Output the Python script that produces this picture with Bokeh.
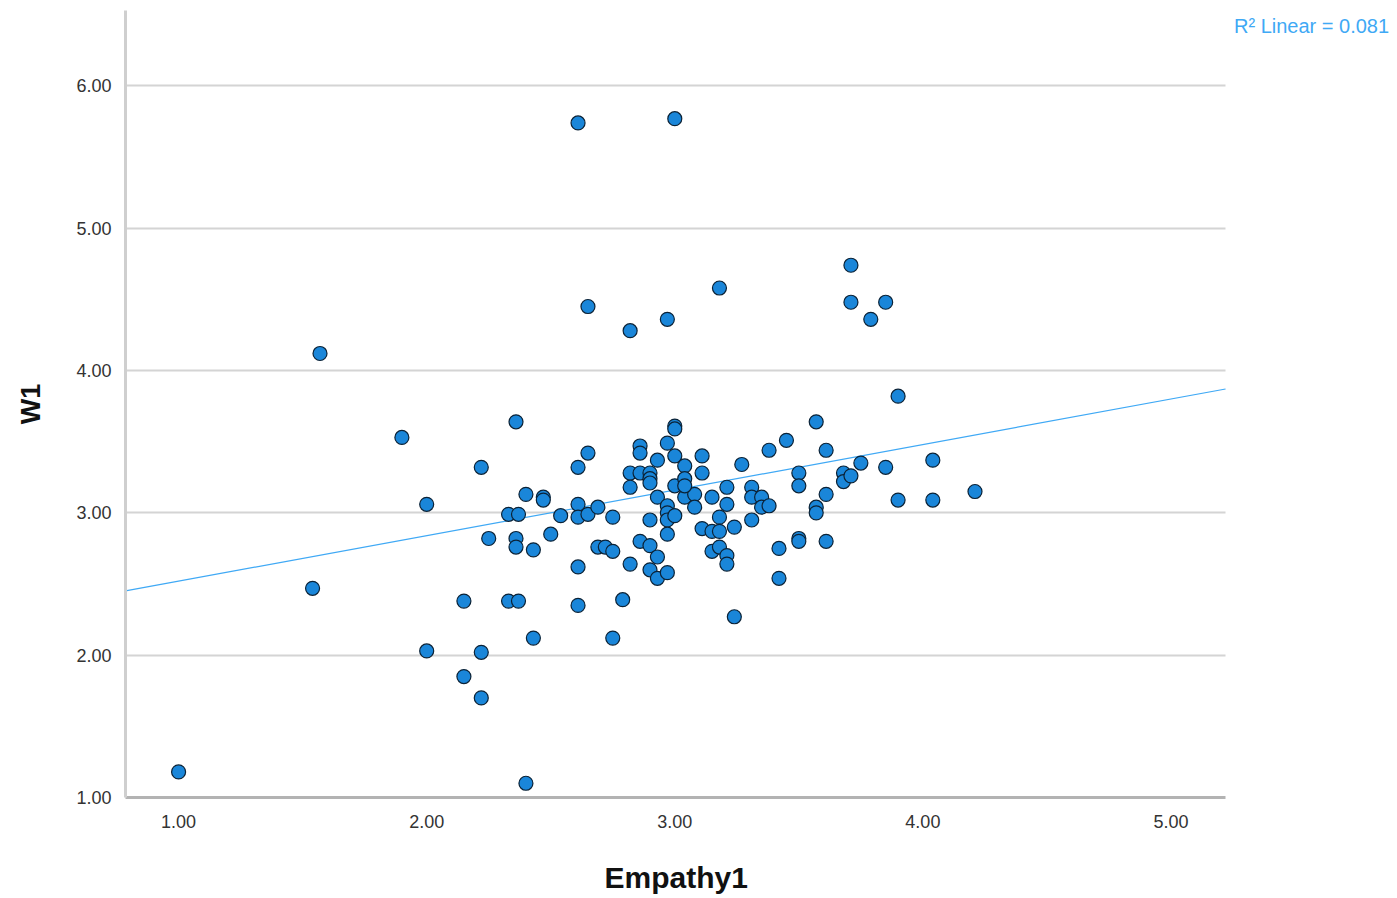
from bokeh.plotting import figure
from bokeh.models import FixedTicker, NumeralTickFormatter, Label, Range1d, ColumnDataSource, Title
from bokeh.embed import file_html
from bokeh.resources import INLINE
import numpy as np

# ---- data ----
empathy1 = [1.00, 2.40, 1.57, 1.54, 1.90, 2.00, 2.00, 2.15, 2.22, 2.22, 2.15, 2.33, 2.37, 2.43,
            2.22, 2.25, 2.36, 2.33, 2.37, 2.36, 2.36, 2.40, 2.43, 2.47, 2.47, 2.50, 2.54,
            2.61, 3.00, 2.65, 2.82, 2.97, 3.18, 3.71, 3.71, 3.79, 3.85, 3.90,
            2.61, 2.65, 2.61, 2.61, 2.65, 2.69, 2.61, 2.61, 2.75, 2.69, 2.72, 2.75, 2.75,
            2.79, 2.82, 2.82, 2.82, 2.86, 2.90, 2.86, 2.86, 2.90, 2.86, 2.90, 2.90, 2.93,
            2.93, 2.97, 2.97, 2.97, 2.97, 2.97, 2.93, 2.90, 2.93, 2.97, 3.00, 3.00, 3.00,
            3.00, 3.00, 3.04, 3.04, 3.04, 3.08, 3.08, 3.11, 3.11, 3.11, 3.15, 3.15, 3.15,
            3.18, 3.18, 3.18, 3.21, 3.21, 3.21, 3.21, 3.24, 3.24, 3.27, 3.31, 3.31, 3.31,
            3.35, 3.35, 3.38, 3.38, 3.42, 3.42, 3.45, 3.50, 3.50, 3.50, 3.50, 3.57, 3.57,
            3.57, 3.61, 3.61, 3.61, 3.68, 3.68, 3.71, 3.75, 3.85, 3.90, 4.04, 4.04, 4.21,
            3.04, 2.90]
w1 = [1.18, 1.10, 4.12, 2.47, 3.53, 3.06, 2.03, 1.85, 1.70, 2.02, 2.38, 2.38, 2.38, 2.12,
      3.32, 2.82, 3.64, 2.99, 2.99, 2.82, 2.76, 3.13, 2.74, 3.11, 3.09, 2.85, 2.98,
      5.74, 5.77, 4.45, 4.28, 4.36, 4.58, 4.74, 4.48, 4.36, 4.48, 3.82,
      3.32, 3.42, 3.06, 2.97, 2.99, 3.04, 2.62, 2.35, 2.97, 2.76, 2.76, 2.73, 2.12,
      2.39, 2.64, 3.28, 3.18, 3.28, 3.28, 3.47, 3.42, 3.24, 2.80, 2.95, 2.77, 3.37,
      3.11, 3.49, 3.05, 3.00, 2.95, 2.85, 2.69, 2.60, 2.54, 2.58, 3.61, 3.59, 3.40,
      3.19, 2.98, 3.33, 3.24, 3.11, 3.13, 3.04, 3.40, 3.28, 2.89, 3.11, 2.87, 2.73,
      2.97, 2.87, 2.76, 3.18, 3.06, 2.70, 2.64, 2.90, 2.27, 3.34, 3.18, 3.11, 2.95,
      3.11, 3.04, 3.44, 3.05, 2.75, 2.54, 3.51, 3.28, 3.19, 2.82, 2.80, 3.64, 3.04,
      3.00, 3.44, 3.13, 2.80, 3.28, 3.22, 3.26, 3.35, 3.32, 3.09, 3.37, 3.09, 3.15,
      3.19, 3.21]

x_ticks = [1, 2, 3, 4, 5]
y_ticks = [1, 2, 3, 4, 5, 6]
fit_intercept = 2.20
fit_slope = 0.32
r2_text = "R² Linear = 0.081"
x_title = "Empathy1"
y_title = "W1"

# plotting region in data units; the canvas extends further right to hold the R² note
x_lo, x_end = 0.786, 5.22
x_hi = 5.913
y_lo, y_hi = 1.0, 6.53

p = figure(width=1397, height=898, output_backend="svg", toolbar_location=None,
           x_range=Range1d(x_lo, x_hi), y_range=Range1d(y_lo, y_hi),
           min_border_left=125, min_border_right=0, min_border_top=10, min_border_bottom=101)
p.outline_line_color = None
p.background_fill_color = "white"
p.border_fill_color = "white"

# grid: horizontal lines only, stopping at the end of the x axis
p.xgrid.grid_line_color = None
grid = p.ygrid[0]
grid.ticker = FixedTicker(ticks=y_ticks)
if "cross_bounds" in grid.properties():
    grid.grid_line_color = "#d4d4d4"
    grid.grid_line_width = 2
    grid.cross_bounds = (x_lo, x_end)
else:
    grid.grid_line_color = None
    gy = y_ticks[1:]
    p.segment(x0=[x_lo] * len(gy), x1=[x_end] * len(gy), y0=gy, y1=gy,
              line_color="#d4d4d4", line_width=2, level="underlay")

# axes
for ax in (p.xaxis[0], p.yaxis[0]):
    ax.major_tick_line_color = None
    ax.minor_tick_line_color = None
    ax.formatter = NumeralTickFormatter(format="0.00")
    ax.major_label_text_font = "Liberation Sans"
    ax.major_label_text_font_size = "18px"
    ax.major_label_text_color = "#333333"
    ax.axis_label_text_font = "Liberation Sans"
    ax.axis_label_text_font_style = "bold"
    ax.axis_label_text_color = "#111111"
    ax.axis_line_width = 3
p.xaxis[0].ticker = FixedTicker(ticks=x_ticks)
p.yaxis[0].ticker = FixedTicker(ticks=y_ticks)
p.xaxis[0].bounds = (x_lo, x_end)
p.xaxis[0].axis_line_color = "#b3b3b3"
p.yaxis[0].axis_line_color = "#cfcfcf"
p.xaxis[0].major_label_standoff = 11
p.yaxis[0].major_label_standoff = 8
# blank spacer label on the x axis pushes the title below down
p.xaxis[0].axis_label = " "
p.xaxis[0].axis_label_text_font_size = "16px"
p.xaxis[0].axis_label_standoff = 8
p.yaxis.axis_label = y_title
p.yaxis[0].axis_label_text_font_size = "27px"
p.yaxis[0].axis_label_standoff = 27

# x-axis title, centred under the plotted region (offset from the frame's left edge)
p.add_layout(Title(text=x_title, align="left", offset=479, standoff=0,
                   text_font="Liberation Sans", text_font_size="30px",
                   text_font_style="bold", text_color="#111111"), "below")

# regression line
xs_fit = np.array([x_lo, x_end])
p.line(xs_fit, fit_intercept + fit_slope * xs_fit, line_color="#3fa9f5", line_width=1.2)

# points
src = ColumnDataSource(dict(x=empathy1, y=w1))
p.scatter("x", "y", source=src, size=14, fill_color="#1a86d9", line_color="#0b2236", line_width=1.2)

p.add_layout(Label(x=5.254, y=6.42, text=r2_text,
                   text_color="#3fa9f5", text_font="Liberation Sans", text_font_size="20px",
                   text_baseline="middle"))

open("out.html", "w").write(file_html(p, INLINE))
